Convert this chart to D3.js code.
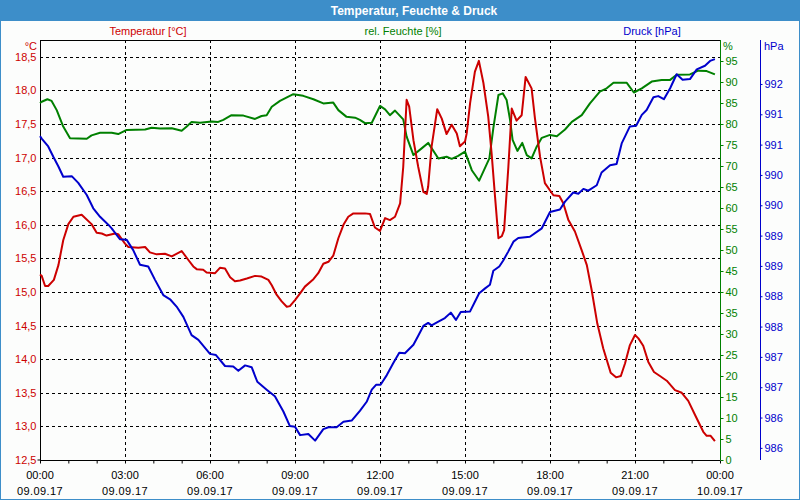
<!DOCTYPE html>
<html>
<head>
<meta charset="utf-8">
<script src="https://cdn.jsdelivr.net/npm/d3@7"></script>
<style>
  body { margin: 0; background: #fcfdfc; }
  svg { display: block; font-family: "Liberation Sans", Arial, sans-serif; }
</style>
</head>
<body>
<svg id="chart" width="800" height="500"></svg>
<script>
// [hour, °C]
const temperature = [
  [0,15.26],[0.06,15.24],[0.18,15.09],[0.29,15.09],[0.49,15.18],[0.65,15.40],[0.82,15.77],[1.00,16.01],
  [1.18,16.12],[1.47,16.15],[1.82,16.01],[2.00,15.88],[2.18,15.87],[2.35,15.84],[2.65,15.87],[2.76,15.86],
  [3.00,15.72],[3.12,15.67],[3.47,15.66],[3.71,15.67],[3.88,15.59],[4.12,15.56],[4.41,15.57],[4.65,15.53],
  [5.00,15.61],[5.23,15.48],[5.41,15.38],[5.53,15.34],[5.76,15.33],[5.88,15.29],[6.18,15.28],[6.35,15.36],
  [6.53,15.35],[6.71,15.22],[6.88,15.16],[7.06,15.17],[7.30,15.20],[7.59,15.24],[7.82,15.23],[8.06,15.18],
  [8.18,15.10],[8.35,14.96],[8.53,14.86],[8.71,14.78],[8.82,14.79],[9.00,14.88],[9.18,14.98],[9.35,15.08],
  [9.65,15.19],[9.82,15.28],[10.00,15.42],[10.18,15.45],[10.35,15.54],[10.53,15.80],[10.71,16.00],[10.88,16.12],
  [11.06,16.17],[11.47,16.17],[11.65,16.16],[11.82,15.96],[12.00,15.91],[12.18,16.10],[12.35,16.07],[12.53,16.12],
  [12.71,16.32],[12.82,16.86],[12.94,17.86],[13.03,17.76],[13.18,17.26],[13.35,16.86],[13.53,16.49],[13.65,16.46],
  [13.70,16.57],[13.82,17.16],[14.02,17.72],[14.18,17.58],[14.35,17.35],[14.53,17.49],[14.71,17.36],[14.82,17.17],
  [15.00,17.24],[15.06,17.36],[15.18,17.81],[15.35,18.28],[15.49,18.44],[15.65,18.11],[15.82,17.61],[15.94,17.06],
  [16.06,16.42],[16.18,15.80],[16.30,15.83],[16.38,15.92],[16.53,16.86],[16.65,17.73],[16.82,17.55],[17.00,17.63],
  [17.14,18.20],[17.35,18.03],[17.47,17.58],[17.65,17.01],[17.82,16.62],[18.12,16.44],[18.33,16.43],[18.47,16.32],
  [18.65,16.07],[18.88,15.90],[19.12,15.62],[19.30,15.40],[19.47,15.03],[19.67,14.53],[19.88,14.16],[20.14,13.80],
  [20.33,13.73],[20.50,13.75],[20.65,13.94],[20.82,14.21],[21.00,14.36],[21.12,14.31],[21.29,14.20],[21.47,13.96],
  [21.67,13.81],[21.88,13.75],[22.12,13.68],[22.41,13.54],[22.65,13.50],[22.88,13.38],[23.12,13.17],[23.41,12.92],
  [23.53,12.86],[23.67,12.86],[23.82,12.78]
];

// [hour, %]
const humidity = [
  [0,85.0],[0.06,85.3],[0.26,85.9],[0.41,85.5],[0.59,83.3],[0.82,79.4],[1.06,76.6],[1.65,76.5],[1.82,77.3],
  [2.12,77.9],[2.53,77.9],[2.76,77.6],[3.06,78.6],[3.71,78.7],[3.94,79.1],[4.24,78.9],[4.65,79.0],
  [5.00,78.4],[5.18,79.4],[5.35,80.5],[5.65,80.3],[6.06,80.6],[6.29,80.5],[6.47,81.0],[6.76,82.1],
  [7.18,82.0],[7.59,81.2],[7.82,81.9],[8.00,82.1],[8.18,84.1],[8.47,85.5],[8.94,87.1],[9.29,86.7],
  [9.65,85.9],[10.00,84.9],[10.35,85.1],[10.53,83.3],[10.82,81.7],[11.12,81.5],[11.29,81.0],[11.47,80.2],
  [11.71,80.3],[12.00,84.3],[12.18,83.5],[12.35,82.1],[12.53,83.2],[12.82,81.1],[12.94,77.0],[13.18,72.6],
  [13.47,74.2],[13.70,75.5],[14.06,71.8],[14.35,72.2],[14.53,71.7],[14.76,72.4],[15.00,73.4],[15.24,69.0],
  [15.50,66.5],[15.86,71.8],[16.00,79.0],[16.18,86.9],[16.33,87.3],[16.47,85.7],[16.59,81.0],[16.68,76.2],
  [16.85,73.6],[17.02,75.5],[17.18,72.6],[17.35,71.8],[17.53,74.6],[17.71,76.7],[18.00,77.4],[18.24,77.1],
  [18.53,78.7],[18.77,80.5],[19.12,82.1],[19.41,84.9],[19.76,87.7],[20.00,88.5],[20.24,89.8],[20.71,89.8],
  [20.96,87.5],[21.24,88.5],[21.59,90.1],[21.94,90.5],[22.24,90.5],[22.47,91.7],[22.94,91.8],[23.23,92.7],
  [23.53,92.6],[23.82,91.8]
];

// [hour, hPa]
const pressure = [
  [0,991.14],[0.06,991.10],[0.29,990.97],[0.47,990.80],[0.65,990.64],[0.82,990.47],[1.12,990.48],[1.35,990.37],
  [1.65,990.17],[1.88,989.95],[2.12,989.81],[2.41,989.68],[2.53,989.62],[2.82,989.44],[3.06,989.43],[3.29,989.26],
  [3.53,989.02],[3.82,988.99],[4.06,988.77],[4.35,988.52],[4.59,988.45],[4.82,988.33],[5.06,988.16],[5.35,987.86],
  [5.59,987.78],[6.00,987.55],[6.21,987.53],[6.53,987.35],[6.82,987.34],[7.00,987.27],[7.24,987.36],[7.47,987.33],
  [7.67,987.09],[8.00,986.96],[8.29,986.85],[8.59,986.60],[8.82,986.36],[9.00,986.35],[9.18,986.21],[9.47,986.23],
  [9.71,986.12],[10.00,986.31],[10.18,986.34],[10.47,986.34],[10.71,986.43],[11.00,986.45],[11.29,986.61],[11.53,986.76],
  [11.71,986.96],[11.86,987.04],[12.02,987.04],[12.24,987.20],[12.47,987.40],[12.68,987.57],[12.88,987.56],[13.18,987.70],
  [13.35,987.85],[13.53,988.01],[13.70,988.06],[13.82,988.02],[14.06,988.08],[14.29,988.14],[14.50,988.23],[14.68,988.11],
  [14.85,988.24],[15.18,988.25],[15.35,988.41],[15.50,988.55],[15.71,988.63],[15.88,988.69],[16.00,988.92],[16.21,988.99],
  [16.35,989.09],[16.53,989.24],[16.71,989.40],[16.88,989.46],[17.29,989.48],[17.71,989.62],[18.00,989.89],[18.35,989.93],
  [18.53,990.06],[18.82,990.21],[19.00,990.19],[19.18,990.27],[19.35,990.24],[19.65,990.33],[19.82,990.54],[20.12,990.66],
  [20.35,990.68],[20.53,991.02],[20.82,991.30],[21.04,991.31],[21.24,991.49],[21.41,991.57],[21.65,991.78],[21.82,991.80],
  [22.02,991.75],[22.24,991.93],[22.47,992.16],[22.68,992.07],[22.94,992.08],[23.18,992.24],[23.47,992.30],[23.65,992.38],
  [23.82,992.41]
];

const timeLabels = ["00:00","03:00","06:00","09:00","12:00","15:00","18:00","21:00","00:00"];
const dateLabels = ["09.09.17","09.09.17","09.09.17","09.09.17","09.09.17","09.09.17","09.09.17","09.09.17","10.09.17"];
const tempTicks = d3.range(12.5, 18.51, 0.5);
const humTicks = d3.range(0, 96, 5);
const presTicks = d3.range(986, 992.01, 0.5);

const RED = "#cc0000", GREEN = "#008000", BLUE = "#0000cc", FRAME = "#3d8ec9";

const deLocale = d3.formatLocale({ decimal: ",", thousands: ".", grouping: [3], currency: ["", "€"] });

draw();

function draw () {
  const svg = d3.select("#chart");
  const m = { left: 40, right: 720, top: 40, bottom: 460 };

  const x = d3.scaleLinear().domain([0, 24]).range([m.left, m.right]);
  const yT = d3.scaleLinear().domain([12.5, 18.75]).range([m.bottom, m.top]);
  const yH = d3.scaleLinear().domain([0, 100]).range([m.bottom, m.top]);
  const yP = d3.scaleLinear().domain([985.8, 992.725]).range([m.bottom, m.top]);

  // window frame + title bar
  svg.append("rect").attr("x", 0.5).attr("y", 0.5).attr("width", 799).attr("height", 499)
    .attr("fill", "#fcfdfc").attr("stroke", FRAME);
  svg.append("rect").attr("x", 0).attr("y", 0).attr("width", 800).attr("height", 21).attr("fill", FRAME);
  svg.append("text").attr("x", 414).attr("y", 15).attr("text-anchor", "middle")
    .attr("fill", "#fff").attr("font-weight", "bold").attr("font-size", 12)
    .text("Temperatur, Feuchte & Druck");

  // legend captions
  const caps = [["Temperatur [°C]", 148, RED], ["rel. Feuchte [%]", 403, GREEN], ["Druck [hPa]", 652, BLUE]];
  svg.selectAll(".cap").data(caps).enter().append("text")
    .attr("x", d => d[1]).attr("y", 35).attr("text-anchor", "middle")
    .attr("font-size", 11).attr("fill", d => d[2]).text(d => d[0]);

  // grid
  const grid = svg.append("g").attr("stroke", "#000").attr("stroke-dasharray", "3,3");
  grid.selectAll(".hg").data(tempTicks.slice(1)).enter().append("line")
    .attr("x1", m.left).attr("x2", m.right)
    .attr("y1", d => Math.round(yT(d)) + 0.5).attr("y2", d => Math.round(yT(d)) + 0.5);
  grid.selectAll(".vg").data(d3.range(3, 24, 3)).enter().append("line")
    .attr("y1", m.top).attr("y2", m.bottom)
    .attr("x1", d => Math.round(x(d)) + 0.5).attr("x2", d => Math.round(x(d)) + 0.5);

  // frame lines
  svg.append("line").attr("x1", m.left).attr("x2", m.right).attr("y1", m.top + 0.5).attr("y2", m.top + 0.5).attr("stroke", "#000");

  // left axis (°C)
  const left = svg.append("g").attr("transform", `translate(${m.left + 0.5},0)`)
    .call(d3.axisLeft(yT).tickValues(tempTicks).tickSize(0).tickPadding(4).tickFormat(deLocale.format(".1f")));
  left.select(".domain").attr("stroke", "#000").attr("d", `M-3,${m.bottom}H0V${m.top}`);
  left.selectAll("text").attr("fill", RED).attr("font-size", 11).attr("font-family", null);
  svg.append("text").attr("x", 37).attr("y", 50).attr("text-anchor", "end").attr("font-size", 11).attr("fill", RED).text("°C");

  // right axis (%)
  const right = svg.append("g").attr("transform", `translate(${m.right + 0.5},0)`)
    .call(d3.axisRight(yH).tickValues(humTicks).tickSize(3).tickPadding(2));
  right.select(".domain").attr("stroke", GREEN).attr("d", `M0,${m.bottom}V${m.top}`);
  right.selectAll("line").attr("stroke", GREEN);
  right.selectAll("text").attr("fill", GREEN).attr("font-size", 11).attr("font-family", null);
  svg.append("text").attr("x", 723).attr("y", 50).attr("font-size", 11).attr("fill", GREEN).text("%");

  // far right axis (hPa)
  const far = svg.append("g").attr("transform", "translate(760.5,0)")
    .call(d3.axisRight(yP).tickValues(presTicks).tickSize(2).tickPadding(2).tickFormat(d => Math.floor(d)));
  far.select(".domain").attr("stroke", BLUE).attr("d", `M0,${m.bottom}V${m.top}`);
  far.selectAll("line").attr("stroke", BLUE);
  far.selectAll("text").attr("fill", BLUE).attr("font-size", 11).attr("font-family", null);
  svg.append("text").attr("x", 764).attr("y", 50).attr("font-size", 11).attr("fill", BLUE).text("hPa");

  // bottom axis
  const bottom = svg.append("g").attr("transform", `translate(0,${m.bottom + 0.5})`)
    .call(d3.axisBottom(x).tickValues(d3.range(0, 25, 1)).tickSize(3).tickFormat(""));
  bottom.select(".domain").attr("stroke", "#000").attr("d", `M${m.left},0H${m.right}`);
  bottom.selectAll("line").attr("stroke", "#000");

  const lab = svg.append("g").attr("font-size", 11).attr("fill", "#000").attr("text-anchor", "middle");
  lab.selectAll(".tl").data(timeLabels).enter().append("text")
    .attr("x", (d, i) => x(i * 3)).attr("y", 479).text(d => d);
  lab.selectAll(".dl").data(dateLabels).enter().append("text")
    .attr("x", (d, i) => x(i * 3)).attr("y", 495).attr("letter-spacing", 0.4).text(d => d);

  // series
  const series = [
    [humidity, yH, GREEN],
    [temperature, yT, RED],
    [pressure, yP, BLUE]
  ];
  series.forEach(function (s) {
    const line = d3.line().x(d => x(d[0])).y(d => s[1](d[1]));
    svg.append("path").datum(s[0]).attr("d", line)
      .attr("fill", "none").attr("stroke", s[2]).attr("stroke-width", 2).attr("stroke-linejoin", "round");
  });
}
</script>
</body>
</html>
